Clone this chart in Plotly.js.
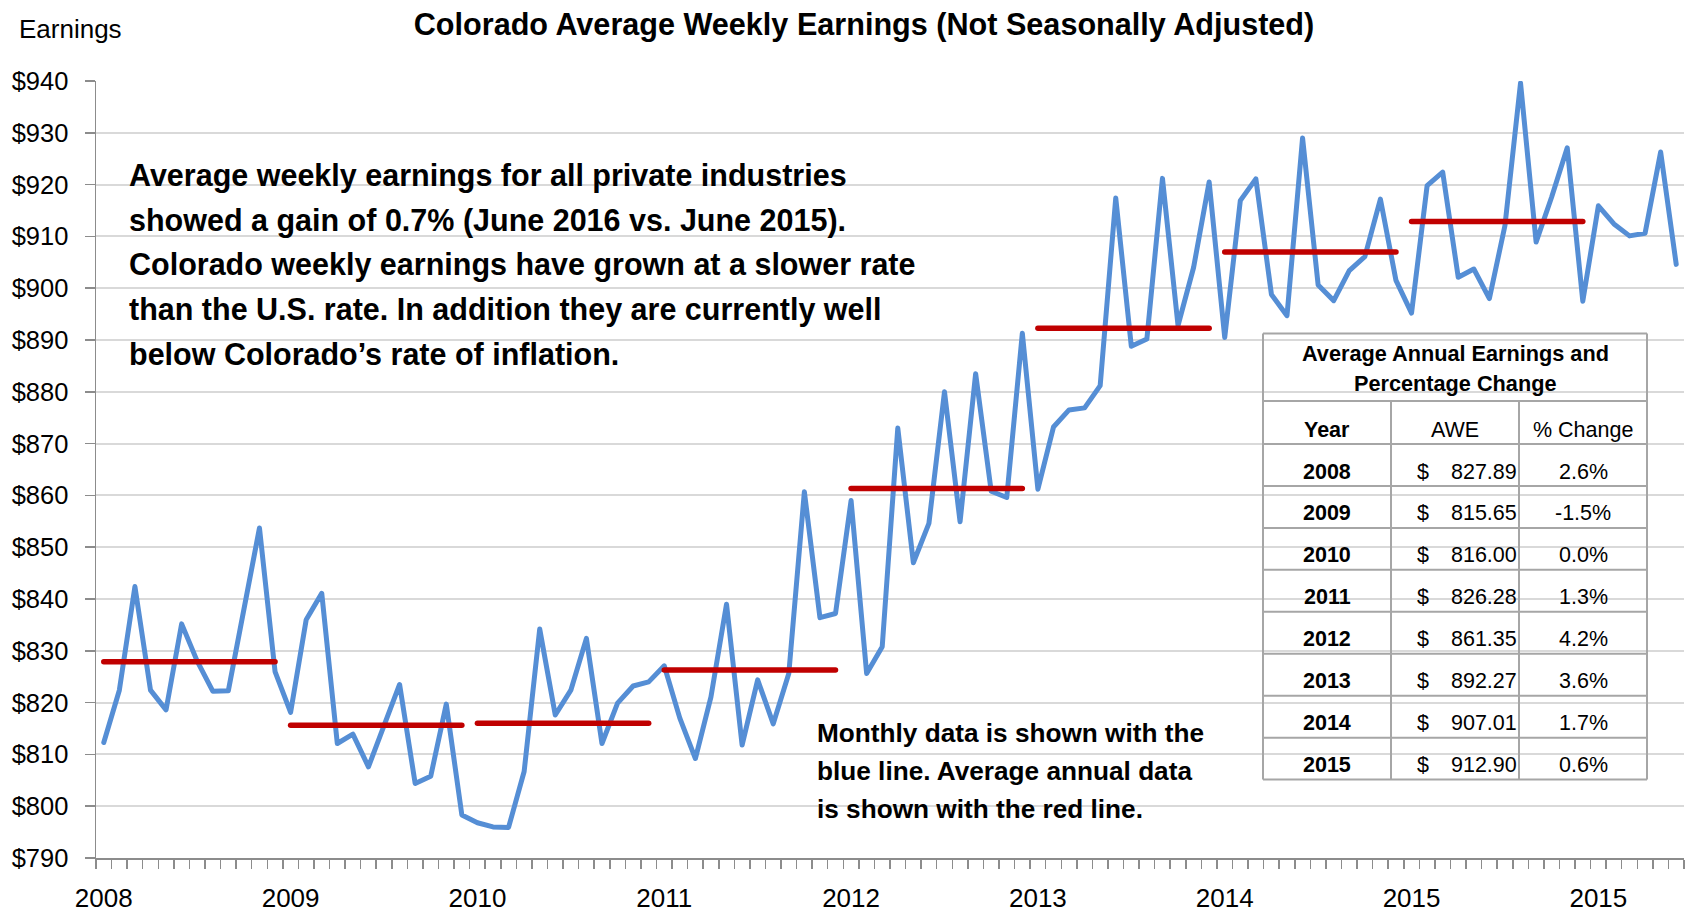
<!DOCTYPE html>
<html><head><meta charset="utf-8">
<script src="https://cdn.plot.ly/plotly-3.0.1.min.js"></script>
<style>
html,body{margin:0;padding:0;background:#fff;}
#chart{width:1688px;height:913px;}
.js-line{stroke-linecap:round;stroke-linejoin:round;}
</style>
</head><body><div id="chart"></div>
<script>
// ---------------- DATA ----------------
const monthly2008 = [812.3, 822.4, 842.4, 822.4, 818.6, 835.2, 828.0, 822.2, 822.3, 838.0, 853.7, 826.0];
const monthly2009 = [818.1, 836.0, 841.1, 812.1, 813.9, 807.6, 815.6, 823.5, 804.4, 805.8, 819.7, 798.3];
const monthly2010 = [796.8, 796.0, 795.9, 806.7, 834.2, 817.6, 822.4, 832.4, 812.1, 819.9, 823.2, 824.0];
const monthly2011 = [827.1, 817.0, 809.2, 821.1, 839.0, 811.8, 824.4, 815.9, 825.6, 860.7, 836.4, 837.2];
const monthly2012 = [859.0, 825.6, 830.8, 873.0, 847.0, 854.6, 880.0, 854.9, 883.5, 860.8, 859.6, 891.3];
const monthly2013 = [861.2, 873.2, 876.5, 876.9, 881.2, 917.4, 888.8, 890.2, 921.2, 892.8, 904.0, 920.5];
const monthly2014 = [890.5, 916.9, 921.1, 898.8, 894.7, 929.0, 900.6, 897.6, 903.4, 906.1, 917.2, 901.5];
const monthly2015 = [895.2, 919.8, 922.4, 902.1, 903.7, 898.0, 912.1, 939.6, 908.9, 917.6, 927.1, 897.5];
const monthly2016 = [915.9, 912.4, 910.1, 910.6, 926.3, 904.6];

const annualYears = ["2008","2009","2010","2011","2012","2013","2014","2015"];
const annualAWE   = [827.89, 815.65, 816.00, 826.28, 861.35, 892.27, 907.01, 912.90];
const annualPct   = ["2.6%","-1.5%","0.0%","1.3%","4.2%","3.6%","1.7%","0.6%"];

const xTickLabels = ["2008","2009","2010","2011","2012","2013","2014","2015","2015"];

const titleText = "Colorado Average Weekly Earnings (Not Seasonally Adjusted)";
const yAxisLabel = "Earnings";
const noteLines = [
  "Average weekly earnings for all private industries",
  "showed a gain of 0.7% (June 2016 vs. June 2015).",
  "Colorado weekly earnings have grown at a slower rate",
  "than the U.S. rate. In addition they are currently well",
  "below Colorado\u2019s rate of inflation."
];
const legendLines = [
  "Monthly data is shown with the",
  "blue line. Average annual data",
  "is shown with the red line."
];
const tableTitle = ["Average Annual Earnings and", "Percentage Change"];
const tableHeaders = ["Year", "AWE", "% Change"];

// ---------------- BUILD ----------------
const FONT = '"Liberation Sans", Arial, Helvetica, sans-serif';
const W = 1688, H = 913, L = 96, R = 4, T = 81, B = 55;
const PW = W - L - R, PH = H - T - B;
const px = v => (v - L) / PW;
const py = v => (H - B - v) / PH;

const monthly = [].concat(monthly2008, monthly2009, monthly2010, monthly2011,
  monthly2012, monthly2013, monthly2014, monthly2015, monthly2016);
const xIdx = monthly.map((_, i) => i);

const redX = [], redY = [];
annualAWE.forEach((v, k) => {
  redX.push(12 * k, 12 * k + 11, null);
  redY.push(v, v, null);
});

const tickVals = xTickLabels.map((_, k) => 12 * k);
const minorVals = [];
for (let i = 0; i <= monthly.length; i++) minorVals.push(i - 0.5);

const traces = [
  { x: xIdx, y: monthly, type: 'scatter', mode: 'lines',
    line: { color: '#558ED5', width: 5 }, hoverinfo: 'skip', showlegend: false },
  { x: redX, y: redY, type: 'scatter', mode: 'lines', connectgaps: false,
    line: { color: '#C00000', width: 5.5 }, hoverinfo: 'skip', showlegend: false }
];

const annotations = [];
function txt(text, x, y, size, bold, anchor) {
  annotations.push({
    text: bold ? '<b>' + text + '</b>' : text,
    xref: 'paper', yref: 'paper', x: px(x), y: py(y),
    xanchor: anchor || 'left', yanchor: 'middle', showarrow: false,
    font: { family: FONT, size: size, color: '#000' }, borderpad: 0
  });
}
txt(yAxisLabel, 18, 29, 26, false);
noteLines.forEach((s, i) => txt(s, 128, 175.5 + 44.7 * i, 30.5, true));
legendLines.forEach((s, i) => txt(s, 816, 733 + 37.8 * i, 26.2, true));

// table
const colX = [1263, 1391, 1519, 1647];
const rowTop = 333.5, titleBottom = 401, headBottom = 444, rowH = 41.95;
const tableBottom = headBottom + rowH * annualYears.length;
const shapes = [];
const lineStyle = { color: '#a6a6a6', width: 2 };
function seg(x0, y0, x1, y1) {
  shapes.push({ type: 'line', xref: 'paper', yref: 'paper',
    x0: px(x0), y0: py(y0), x1: px(x1), y1: py(y1), line: lineStyle });
}
seg(colX[0], rowTop, colX[3], rowTop);
seg(colX[0], rowTop, colX[0], tableBottom);
seg(colX[3], rowTop, colX[3], tableBottom);
seg(colX[0], titleBottom, colX[3], titleBottom);
seg(colX[0], headBottom, colX[3], headBottom);
for (let k = 1; k <= annualYears.length; k++) seg(colX[0], headBottom + rowH * k, colX[3], headBottom + rowH * k);
seg(colX[1], titleBottom, colX[1], tableBottom);
seg(colX[2], titleBottom, colX[2], tableBottom);

const tcx = (colX[0] + colX[3]) / 2;
txt(tableTitle[0], tcx, 353.5, 21.7, true, 'center');
txt(tableTitle[1], tcx, 383.5, 21.7, true, 'center');
txt(tableHeaders[0], (colX[0] + colX[1]) / 2, 430, 21.5, true, 'center');
txt(tableHeaders[1], (colX[1] + colX[2]) / 2, 430, 21.5, false, 'center');
txt(tableHeaders[2], (colX[2] + colX[3]) / 2, 430, 21.5, false, 'center');
annualYears.forEach((yr, k) => {
  const cy = headBottom + rowH * k + 27.5;
  txt(yr, (colX[0] + colX[1]) / 2, cy, 21.5, true, 'center');
  txt('$', colX[1] + 25, cy, 21.5, false, 'left');
  txt(annualAWE[k].toFixed(2), colX[2] - 1, cy, 21.5, false, 'right');
  txt(annualPct[k], (colX[2] + colX[3]) / 2, cy, 21.5, false, 'center');
});

const layout = {
  width: W, height: H,
  margin: { l: L, r: R, t: T, b: B, pad: 0 },
  paper_bgcolor: '#ffffff', plot_bgcolor: 'rgba(0,0,0,0)',
  font: { family: FONT, color: '#000' },
  title: { text: '<b>' + titleText + '</b>', font: { family: FONT, size: 30.6, color: '#000' },
    xref: 'container', yref: 'container', x: 864 / W, xanchor: 'center', y: 1 - 24 / H, yanchor: 'middle' },
  showlegend: false,
  xaxis: {
    range: [-0.5, monthly.length - 0.5], tickmode: 'array', tickvals: tickVals, ticktext: xTickLabels,
    ticks: '', showline: true, linecolor: '#8c8c8c', linewidth: 1.5, showgrid: false, zeroline: false,
    tickfont: { family: FONT, size: 26, color: '#000' }, ticklabelstandoff: 16,
    minor: { tickmode: 'array', tickvals: minorVals, ticks: 'outside', ticklen: 9, tickwidth: 1.5,
      tickcolor: '#8c8c8c', showgrid: false },
    fixedrange: true
  },
  yaxis: {
    range: [790, 940], tickmode: 'linear', tick0: 790, dtick: 10, tickprefix: '$',
    ticks: 'outside', ticklen: 10, tickwidth: 1.5, tickcolor: '#8c8c8c',
    showline: true, linecolor: '#8c8c8c', linewidth: 1.5,
    showgrid: true, gridcolor: '#d9d9d9', gridwidth: 2, zeroline: false,
    tickfont: { family: FONT, size: 25.5, color: '#000' }, ticklabelstandoff: 11,
    fixedrange: true
  },
  annotations: annotations,
  shapes: shapes
};

Plotly.newPlot('chart', traces, layout, { displayModeBar: false, staticPlot: true });
</script></body></html>
